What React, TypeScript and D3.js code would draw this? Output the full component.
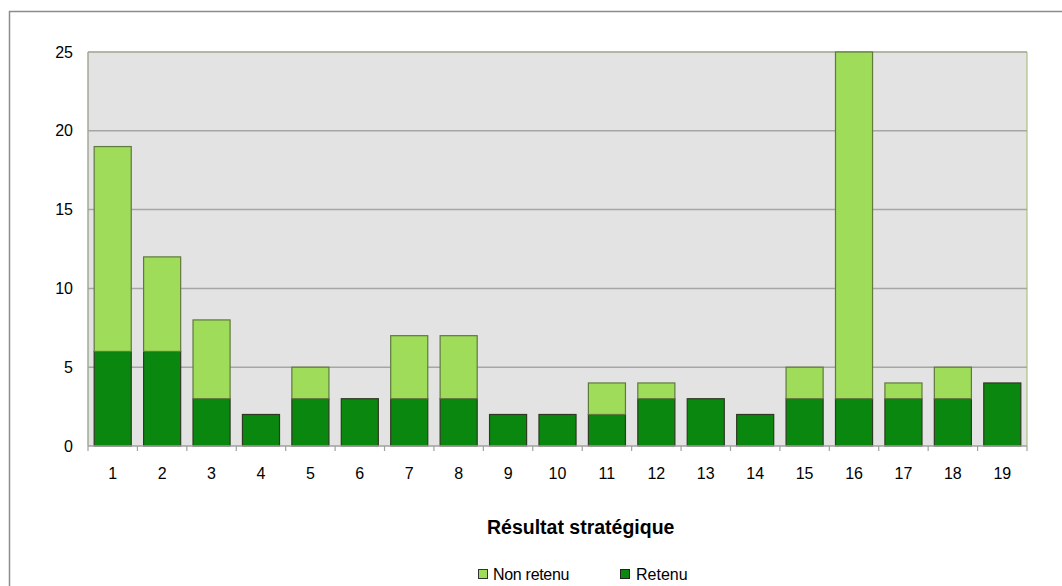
import React from "react";
import * as d3 from "d3";

const categories = ["1","2","3","4","5","6","7","8","9","10","11","12","13","14","15","16","17","18","19"];
const retenu = [6,6,3,2,3,3,3,3,2,2,2,3,3,2,3,3,3,3,4];
const nonRetenu = [13,6,5,0,2,0,4,4,0,0,2,1,0,0,2,22,1,2,0];
const yTicks = [0,5,10,15,20,25];
const seriesNames = ["Non retenu", "Retenu"];

const W = 1062, H = 586;
const left = 88, right = 1027, top = 52, bottom = 446;
const LIGHT = "#9edc5a", DARK = "#0a870f";
const FONT = "Liberation Sans, Arial, sans-serif";

export default function App() {
  const x = d3.scaleBand<string>().domain(categories).range([left, right]).paddingInner(0.25).paddingOuter(0.125);
  const xb = d3.scaleBand<string>().domain(categories).range([left, right]);
  const y = d3.scaleLinear().domain([0, 25]).range([bottom, top]);
  return (
    <svg width={W} height={H} style={{ position: "absolute", left: 0, top: 0 }} fontFamily={FONT}>
      <rect x={0} y={0} width={W} height={H} fill="#fff" />
      <rect x={9.5} y={11.5} width={W + 20} height={H + 20} fill="none" stroke="#8c8c8c" strokeWidth={1.5} />
      <rect x={left} y={top} width={right - left} height={bottom - top} fill="#e3e3e3" />
      {yTicks.filter(t => t > 0).map(t => (
        <line key={t} x1={left} x2={right} y1={y(t)} y2={y(t)} stroke="#a6a6a6" strokeWidth={1.5} />
      ))}
      <line x1={right} x2={right} y1={top} y2={bottom} stroke="#9ab86a" strokeWidth={1} />
      <line x1={left} x2={right} y1={top} y2={top} stroke="#a8b58f" strokeWidth={1} />
      {categories.map((c, i) => (
        <g key={c}>
          <rect x={x(c)!} y={y(retenu[i])} width={x.bandwidth()} height={y(0) - y(retenu[i])} fill={DARK} stroke="#2f3a22" strokeWidth={1.2} />
          {nonRetenu[i] > 0 && (
            <rect x={x(c)!} y={y(retenu[i] + nonRetenu[i])} width={x.bandwidth()} height={y(retenu[i]) - y(retenu[i] + nonRetenu[i])} fill={LIGHT} stroke="#5f7a3c" strokeWidth={1.2} />
          )}
        </g>
      ))}
      <line x1={left} x2={left} y1={top} y2={bottom} stroke="#a0a896" strokeWidth={1.5} />
      <line x1={left} x2={right} y1={bottom} y2={bottom} stroke="#a0a0a0" strokeWidth={1.5} />
      {categories.map(c => (
        <line key={"t" + c} x1={xb(c)!} x2={xb(c)!} y1={bottom} y2={bottom + 5} stroke="#a0a0a0" strokeWidth={1.2} />
      ))}
      <line x1={right} x2={right} y1={bottom} y2={bottom + 5} stroke="#a0a0a0" strokeWidth={1.2} />
      {yTicks.map(t => (
        <text key={t} x={73} y={y(t)} dy="0.35em" textAnchor="end" fontSize={16} fill="#000">{t}</text>
      ))}
      {categories.map(c => (
        <text key={"l" + c} x={xb(c)! + xb.bandwidth() / 2} y={479} textAnchor="middle" fontSize={16} fill="#000">{c}</text>
      ))}
      <text x={487} y={534} textAnchor="start" fontSize={19.5} fontWeight="bold" fill="#000">Résultat stratégique</text>
      <rect x={478.5} y={569.5} width={9} height={9} fill={LIGHT} stroke="#333" strokeWidth={1} />
      <text x={493} y={580} fontSize={16} fill="#000" letterSpacing={-0.3}>{seriesNames[0]}</text>
      <rect x={620.5} y={569.5} width={9} height={9} fill={DARK} stroke="#222" strokeWidth={1} />
      <text x={636} y={580} fontSize={16} fill="#000">{seriesNames[1]}</text>
    </svg>
  );
}
